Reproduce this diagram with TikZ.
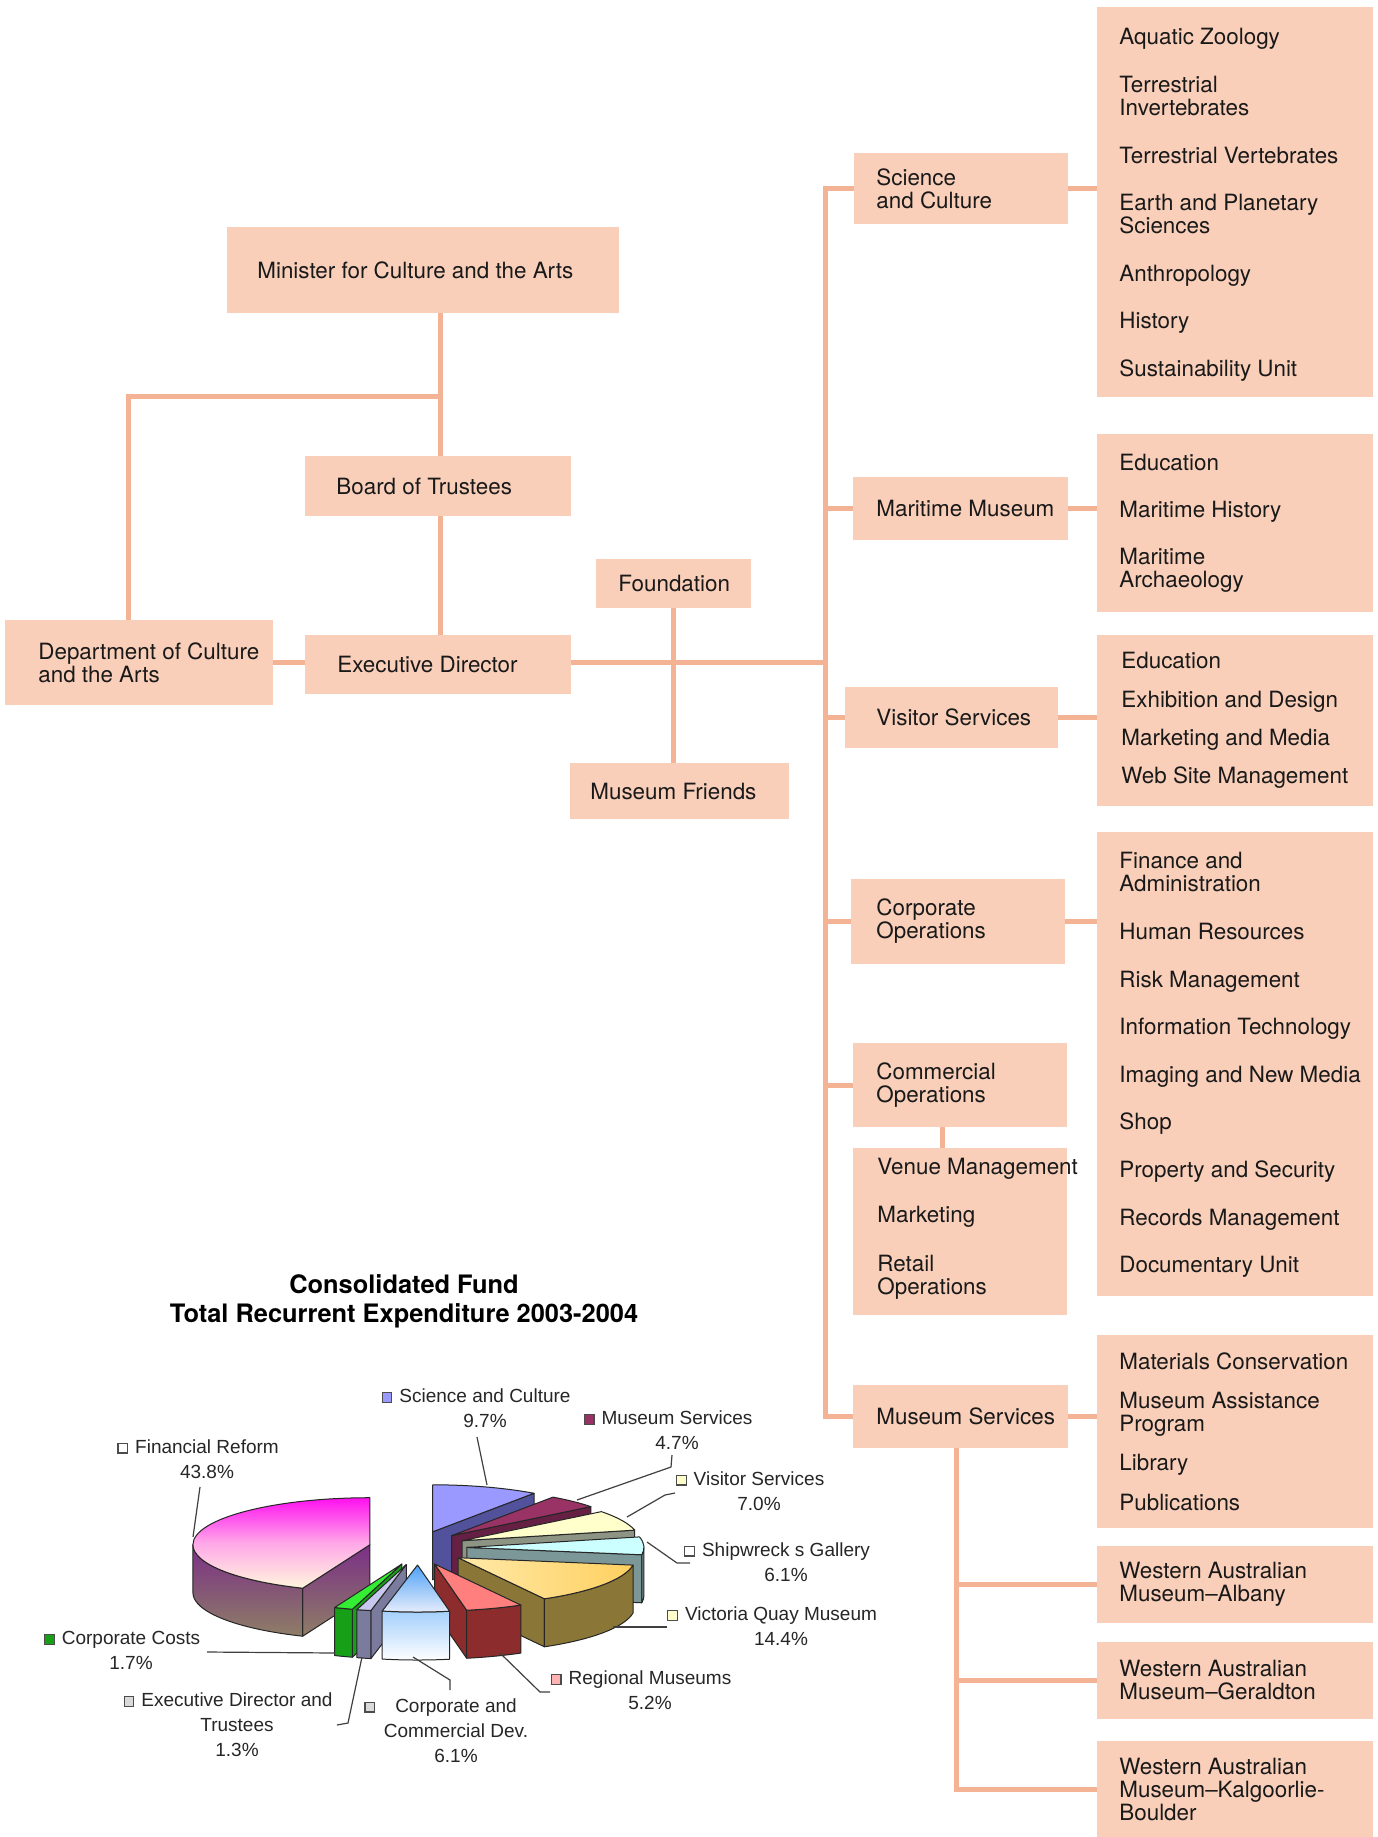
\documentclass[tikz,border=0pt]{standalone}
\usepackage{fontspec}
\setmainfont{TeX Gyre Heros}
\newfontfamily\chartfont{Liberation Sans}
\usetikzlibrary{fit,positioning}

\definecolor{boxfill}{HTML}{F9CFBA}
\definecolor{linkcol}{HTML}{F5B396}
\definecolor{frmag}{HTML}{FF10F0}
\definecolor{frpink}{HTML}{FFA8E8}
\definecolor{frpale}{HTML}{FFF6DC}
\definecolor{frpurp}{HTML}{7B2F86}
\definecolor{frgrey}{HTML}{8E7E66}
\definecolor{scitop}{HTML}{9999FF}
\definecolor{sciside}{HTML}{52529C}
\definecolor{mstop}{HTML}{993366}
\definecolor{msside}{HTML}{662044}
\definecolor{vistop}{HTML}{FFFFCC}
\definecolor{visside}{HTML}{8E9484}
\definecolor{shiptop}{HTML}{CCFFFF}
\definecolor{shipside}{HTML}{7C9797}
\definecolor{vqtop}{HTML}{FFD060}
\definecolor{vqlight}{HTML}{FFE9A8}
\definecolor{vqside}{HTML}{8A7636}
\definecolor{regtop}{HTML}{FF7F7F}
\definecolor{regside}{HTML}{8C2C2C}
\definecolor{ccdblue}{HTML}{4EA2F8}
\definecolor{ccdpale}{HTML}{E6ECFA}
\definecolor{edtop}{HTML}{C8C8EE}
\definecolor{edside}{HTML}{7B7B9E}
\definecolor{cctop}{HTML}{33EE33}
\definecolor{ccside}{HTML}{17A017}

\setlength{\fboxsep}{0pt}
\setlength{\fboxrule}{0.6pt}
\newcommand\swatch[1]{\raisebox{0.1ex}{\fcolorbox{black!70}{#1}{\rule{0pt}{4.2pt}\rule{4.2pt}{0pt}}}}
\newcommand\keyed[2][3.5pt]{\llap{\swatch{#2}\hspace{#1}}}

% one exploded slice: start, end, wall start, wall end, top style, side style
\newcommand\pieslice[6]{%
  \pgfmathsetmacro\pmid{(#1+#2)/2}%
  \pgfmathsetmacro\psx{49*cos(\pmid)}%
  \pgfmathsetmacro\psy{17*sin(\pmid)}%
  \pgfmathtruncatemacro\cutA{cos(#1)>0.01}%
  \pgfmathtruncatemacro\cutB{cos(#2)<-0.01}%
  \pgfmathtruncatemacro\wallon{#4>#3}%
  \ifnum\cutA=1
    \draw[pie edge,#6] (\psx,\psy) -- ++(#1:177 and 47) -- ++(0,-48) -- (\psx,\psy-48) -- cycle;
  \fi
  \ifnum\cutB=1
    \draw[pie edge,#6] (\psx,\psy) -- ++(#2:177 and 47) -- ++(0,-48) -- (\psx,\psy-48) -- cycle;
  \fi
  \ifnum\wallon=1
    \draw[pie edge,#6] (\psx,\psy) ++(#3:177 and 47)
      arc[start angle=#3, end angle=#4, x radius=177, y radius=47] -- ++(0,-48)
      arc[start angle=#4, end angle=#3, x radius=177, y radius=47] -- cycle;
  \fi
  \draw[pie edge,#5] (\psx,\psy) -- ++(#1:177 and 47)
    arc[start angle=#1, end angle=#2, x radius=177, y radius=47] -- cycle;
}

\tikzset{
  unit/.style={inner sep=0pt, outer sep=0pt, fill=boxfill},
  unittext/.style={anchor=west, align=left, inner sep=0pt, text=black!90,
    font=\fontsize{11.2}{11.5}\selectfont},
  link/.style={draw=linkcol, line width=2.5pt},
  pie edge/.style={draw=black!85, line width=0.5pt, line join=round},
  pielabel/.style={align=center, inner sep=0pt, text=black!85,
    font=\chartfont\fontsize{9.5}{12.5}\selectfont},
  leader/.style={draw=black!75, line width=0.6pt},
  charttitle/.style={align=center, inner sep=0pt,
    font=\bfseries\fontsize{12.7}{14.5}\selectfont},
}

\begin{document}
\begin{tikzpicture}[x=0.5pt, y=-0.5pt]
    \fill[white] (0,0) rectangle (1377,1837);
    \useasboundingbox (0,0) rectangle (1377,1837);
    % Governance
    \node[unit, fit={(227,227) (619,313)}] (min) {};
    \node[unittext] (min-t) at ([xshift=15pt]min.west) {Minister for Culture and the Arts};
    \node[unit, fit={(305,456) (571,516)}] (board) {};
    \node[unittext] (board-t) at ([xshift=15.5pt]board.west) {Board of Trustees};
    \node[unit, fit={(5,620) (273,705)}] (dept) {};
    \node[unittext] (dept-t) at ([xshift=16.5pt]dept.west) {Department of Culture\\and the Arts};
    \node[unit, fit={(305,635) (571,694)}] (exec) {};
    \node[unittext] (exec-t) at ([xshift=16pt]exec.west) {Executive Director};
    \node[unit, fit={(596,559) (751,608)}] (fnd) {};
    \node[unittext] (fnd-t) at ([xshift=11pt]fnd.west) {Foundation};
    \node[unit, fit={(570,763) (789,819)}] (fri) {};
    \node[unittext] (fri-t) at ([xshift=10pt]fri.west) {Museum Friends};
    % Directorates
    \node[unit, fit={(854,153) (1068,224)}] (sci) {};
    \node[unittext] (sci-t) at ([xshift=11pt]sci.west) {Science\\and Culture};
    \node[unit, fit={(853,477) (1068,540)}] (mar) {};
    \node[unittext] (mar-t) at ([xshift=11.5pt]mar.west) {Maritime Museum};
    \node[unit, fit={(845,687) (1058,748)}] (vis) {};
    \node[unittext] (vis-t) at ([xshift=15.5pt]vis.west) {Visitor Services};
    \node[unit, fit={(851,879) (1065,964)}] (corp) {};
    \node[unittext] (corp-t) at ([xshift=12.5pt]corp.west) {Corporate\\Operations};
    \node[unit, fit={(853,1043) (1067,1127)}] (com) {};
    \node[unittext] (com-t) at ([xshift=11.5pt]com.west) {Commercial\\Operations};
    \node[unit, fit={(853,1148) (1067,1315)}] (com-sub) {};
    \node[unittext] (com-sub-t) at ([xshift=12pt,yshift=1.5pt]com-sub.west)
        {Venue~Management\\[12.8pt]Marketing\\[12.8pt]Retail\\Operations};
    \node[unit, fit={(853,1385) (1068,1448)}] (msv) {};
    \node[unittext] (msv-t) at ([xshift=11.5pt]msv.west) {Museum Services};
    % Sections
    \node[unit, fit={(1097,7) (1373,397)}] (sci-sub) {};
    \node[unittext] (sci-sub-t) at ([xshift=11pt,yshift=-1.5pt]sci-sub.west)
        {Aquatic Zoology\\[12.3pt]Terrestrial\\Invertebrates\\[12.3pt]Terrestrial Vertebrates\\[12.3pt]%
         Earth and Planetary\\Sciences\\[12.3pt]Anthropology\\[12.3pt]History\\[12.3pt]Sustainability Unit};
    \node[unit, fit={(1097,434) (1373,612)}] (mar-sub) {};
    \node[unittext] (mar-sub-t) at ([xshift=11pt]mar-sub.west)
        {Education\\[12pt]Maritime History\\[12pt]Maritime\\Archaeology};
    \node[unit, fit={(1097,635) (1373,806)}] (vis-sub) {};
    \node[unittext] (vis-sub-t) at ([xshift=12pt]vis-sub.west)
        {Education\\[7.6pt]Exhibition~and~Design\\[7.6pt]Marketing~and~Media\\[7.6pt]Web~Site~Management};
    \node[unit, fit={(1097,832) (1373,1296)}] (corp-sub) {};
    \node[unittext] (corp-sub-t) at ([xshift=11pt,yshift=-0.5pt]corp-sub.west)
        {Finance and\\Administration\\[12.3pt]Human Resources\\[12.3pt]Risk Management\\[12.3pt]%
         Information~Technology\\[12.3pt]Imaging~and~New~Media\\[12.3pt]Shop\\[12.3pt]%
         Property and Security\\[12.3pt]Records Management\\[12.3pt]Documentary Unit};
    \node[unit, fit={(1097,1335) (1373,1528)}] (msv-sub) {};
    \node[unittext] (msv-sub-t) at ([xshift=11pt]msv-sub.west)
        {Materials~Conservation\\[8.2pt]Museum Assistance\\Program\\[8.2pt]Library\\[8.2pt]Publications};
    \node[unit, fit={(1097,1546) (1373,1623)}] (alb) {};
    \node[unittext] (alb-t) at ([xshift=11pt]alb.west) {Western Australian\\Museum--Albany};
    \node[unit, fit={(1097,1642) (1373,1719)}] (ger) {};
    \node[unittext] (ger-t) at ([xshift=11pt]ger.west) {Western Australian\\Museum--Geraldton};
    \node[unit, fit={(1097,1741) (1373,1837)}] (kal) {};
    \node[unittext] (kal-t) at ([xshift=11pt]kal.west) {Western Australian\\Museum--Kalgoorlie-\\Boulder};
    % Lines
    \coordinate (split) at (440,396);
    \coordinate (mainrow) at (0,662);
    \coordinate (bus) at (825,0);
    \draw[link] (min.south -| split) -- (board.north -| split);
    \draw[link] (split) -| ([xshift=-5.5pt]dept.north);
    \draw[link] (board.south -| split) -- (exec.north -| split);
    \draw[link] (dept.east |- mainrow) -- (exec.west |- mainrow);
    \draw[link] (exec.east |- mainrow) -- (bus |- mainrow);
    \draw[link] (fnd.south) -- (fnd.south |- fri.north);
    \draw[link] (sci.west) -| (bus |- msv.west) -- (msv.west);
    \foreach \d in {mar,vis,corp,com}
        \draw[link] (\d.west) -- (\d.west -| bus);
    \foreach \d in {sci,mar,vis,corp,msv}
        \draw[link] (\d.east) -- (\d.east -| \d-sub.west);
    \draw[link] ([xshift=-9pt]com.south) -- ([xshift=-9pt]com-sub.north);
    \coordinate (wabus) at ([xshift=-2pt]msv.south);
    \draw[link] (wabus) |- (kal.west);
    \draw[link] (wabus |- alb.west) -- (alb.west);
    \draw[link] (wabus |- ger.west) -- (ger.west);
    % Expenditure chart
    \node[charttitle] (title) at (404,1301.5) {Consolidated Fund\\Total Recurrent Expenditure 2003-2004};
    \begin{scope}[shift={(418,1548)}, y=0.5pt]
        \pieslice{55.08}{90}{0}{0}{fill=scitop}{fill=sciside}
        \pieslice{38.16}{55.08}{0}{0}{fill=mstop}{fill=msside}
        \pieslice{12.96}{38.16}{0}{0}{fill=vistop}{fill=visside}
        \pieslice{90}{247.68}{180}{247.68}{top color=frmag, bottom color=frpale, middle color=frpink}{top color=frpurp, bottom color=frgrey}
        \pieslice{-9}{12.96}{-9}{0}{fill=shiptop}{fill=shipside}
        \pieslice{-60.84}{-9}{-60.84}{-9}{left color=vqlight, right color=vqtop}{fill=vqside}
        \pieslice{-112.32}{-106.2}{-112.32}{-106.2}{fill=cctop}{fill=ccside}
        \pieslice{-79.56}{-60.84}{-79.56}{-60.84}{fill=regtop}{fill=regside}
        \pieslice{-106.2}{-101.52}{-106.2}{-101.52}{fill=edtop}{fill=edside}
        \pieslice{-101.52}{-79.56}{-101.52}{-79.56}{top color=ccdblue, bottom color=ccdpale}{top color=ccdblue, bottom color=white}
    \end{scope}
    % Chart labels
    \node[pielabel] (lbl-fr) at (207,1459) {\keyed{white}Financial Reform\\43.8\%};
    \node[pielabel] (lbl-sci) at (485,1408.5) {\keyed{scitop}Science and Culture\\9.7\%};
    \node[pielabel] (lbl-ms) at (677,1430.5) {\keyed{mstop}Museum Services\\4.7\%};
    \node[pielabel] (lbl-vis) at (759,1491) {\keyed{vistop}Visitor Services\\7.0\%};
    \node[pielabel] (lbl-ship) at (786,1562) {\keyed{white}Shipwreck s Gallery\\6.1\%};
    \node[pielabel] (lbl-vq) at (781,1626.5) {\keyed{vistop}Victoria Quay Museum\\14.4\%};
    \node[pielabel] (lbl-reg) at (650,1690.5) {\keyed{regtop!60!white}Regional Museums\\5.2\%};
    \node[pielabel] (lbl-ccd) at (456,1730.5) {\keyed[10pt]{black!15}Corporate and\\Commercial Dev.\\6.1\%};
    \node[pielabel] (lbl-ed) at (237,1725) {\keyed{black!15}Executive Director and\\Trustees\\1.3\%};
    \node[pielabel] (lbl-cc) at (131,1650.5) {\keyed{ccside}Corporate Costs\\1.7\%};
    % Leader lines
    \coordinate (fr-a) at (200,1487);   \coordinate (fr-b) at (193,1537);
    \coordinate (sci-a) at (477,1437);  \coordinate (sci-b) at (487,1485);
    \coordinate (ms-a) at (672,1455);   \coordinate (ms-b) at (577,1500);
    \coordinate (vis-a) at (675,1493);  \coordinate (vis-b) at (627,1517);
    \coordinate (ship-a) at (690,1563); \coordinate (ship-b) at (647,1542);
    \coordinate (vq-a) at (667,1627);   \coordinate (vq-b) at (613,1627);
    \coordinate (reg-a) at (550,1692);  \coordinate (reg-b) at (500,1653);
    \coordinate (ccd-a) at (450,1690);  \coordinate (ccd-b) at (413,1657);
    \coordinate (ed-a) at (337,1725);   \coordinate (ed-b) at (362,1657);
    \coordinate (cc-a) at (207,1652);   \coordinate (cc-b) at (335,1653);
    \draw[leader] (fr-a) -- (fr-b);
    \draw[leader] (sci-a) -- (sci-b);
    \draw[leader] (ms-a) -- ++(-1,12) -- (ms-b);
    \draw[leader] (vis-a) -- ++(-10,2) -- (vis-b);
    \draw[leader] (ship-a) -- ++(-13,0) -- (ship-b);
    \draw[leader] (vq-a) -- (vq-b);
    \draw[leader] (reg-a) -- ++(-10,0) -- (reg-b);
    \draw[leader] (ccd-a) -- ++(0,-10) -- (ccd-b);
    \draw[leader] (ed-a) -- ++(11,-2) -- (ed-b);
    \draw[leader] (cc-a) -- (cc-b);
\end{tikzpicture}
\end{document}
